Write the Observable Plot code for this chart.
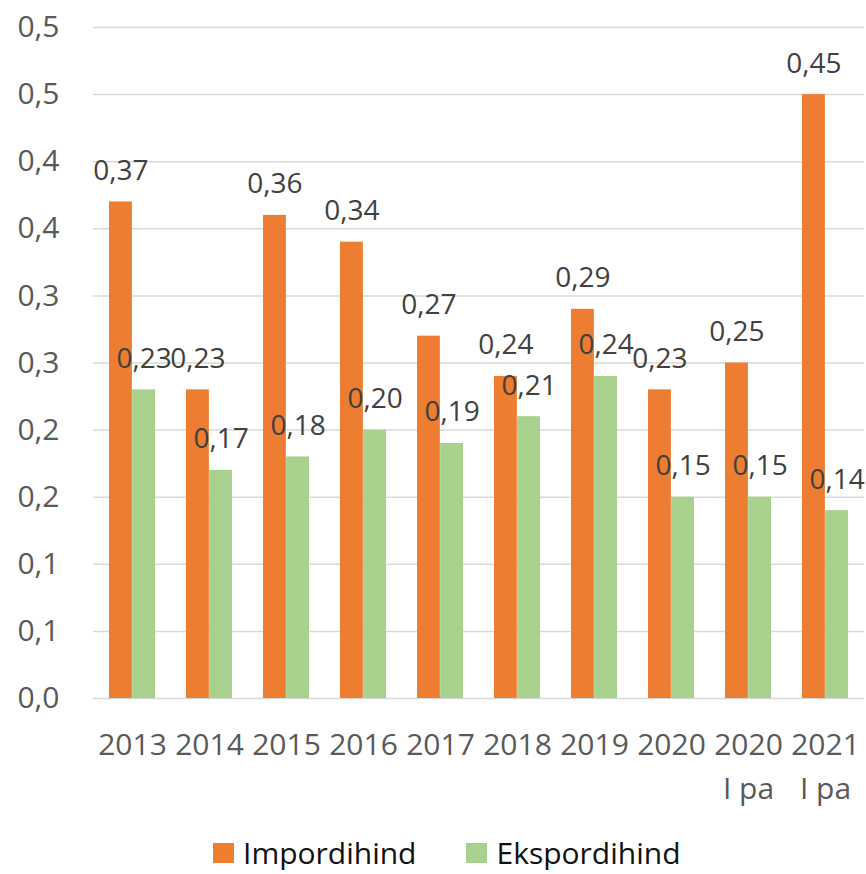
<!DOCTYPE html>
<html><head><meta charset="utf-8">
<script src="https://cdn.jsdelivr.net/npm/d3@7"></script>
<script src="https://cdn.jsdelivr.net/npm/@observablehq/plot@0.6"></script>
<style>
body{margin:0;background:#fff;font-family:"Open Sans",sans-serif;}
#chart svg{display:block;}
#legend{display:flex;align-items:center;height:34px;margin-left:213px;font-size:30px;line-height:1;color:#111;}
.item{display:flex;align-items:center;margin-right:50px;}
.sw{width:21px;height:20px;display:inline-block;margin-right:9px;}
</style></head>
<body><div id="chart"></div><div id="legend"></div>
<script>
const categories = ["2013","2014","2015","2016","2017","2018","2019","2020","2020\nI pa","2021\nI pa"];
const seriesNames = ["Impordihind","Ekspordihind"];
const importValues = [0.37,0.23,0.36,0.34,0.27,0.24,0.29,0.23,0.25,0.45];
const exportValues = [0.23,0.17,0.18,0.20,0.19,0.21,0.24,0.15,0.15,0.14];
const yTicks = [0,0.05,0.1,0.15,0.2,0.25,0.3,0.35,0.4,0.45,0.5];
const yTickLabels = ["0,0","0,1","0,1","0,2","0,2","0,3","0,3","0,4","0,4","0,5","0,5"];
const colors = ["#ED7D31","#A9D18E"];

const importData = categories.map((c,i)=>({category:c, value:importValues[i]}));
const exportData = categories.map((c,i)=>({category:c, value:exportValues[i]}));
const fmt = v => d3.format(".2f")(v).replace(".", ",");

const W = 866, ML = 93, MR = 2, H = 836, MT = 27, MB = 138;
const step = (W - ML - MR) / categories.length;
const half = step * 0.6 / 2;

const chart = Plot.plot({
  width: W, height: H,
  marginLeft: ML, marginRight: MR, marginTop: MT, marginBottom: MB,
  style: {fontFamily: "'Open Sans', sans-serif", fontSize: "30px", background: "#fff", overflow: "visible"},
  x: {domain: categories, paddingInner: 0.4, paddingOuter: 0.2, label: null},
  y: {domain: [0, 0.5], label: null},
  marks: [
    Plot.ruleY(yTicks, {stroke: "#D9D9D9", strokeWidth: 1.5}),
    Plot.barY(importData, {x: "category", y: "value", fill: colors[0], insetRight: half}),
    Plot.barY(exportData, {x: "category", y: "value", fill: colors[1], insetLeft: half}),
    Plot.text(importData, {x: "category", y: "value", text: d => fmt(d.value), dx: -half/2, dy: -31, fill: "#404040", fontSize: 28}),
    Plot.text(exportData, {x: "category", y: "value", text: d => fmt(d.value), dx: half/2, dy: -31, fill: "#404040", fontSize: 28}),
    Plot.axisX({tickSize: 0, tickPadding: 25, fontSize: 30, fill: "#595959", lineHeight: 1.47, lineAnchor: "top", label: null}),
    Plot.axisY({ticks: yTicks, tickFormat: d => yTickLabels[yTicks.indexOf(d)], tickSize: 0, tickPadding: 34, fontSize: 30, fill: "#595959", label: null})
  ]
});
document.getElementById("chart").appendChild(chart);

const legend = document.getElementById("legend");
seriesNames.forEach((name, i) => {
  const item = document.createElement("div");
  item.className = "item";
  const sw = document.createElement("span");
  sw.className = "sw";
  sw.style.background = colors[i];
  const label = document.createElement("span");
  label.textContent = name;
  item.appendChild(sw); item.appendChild(label);
  legend.appendChild(item);
});
</script>
</body></html>
